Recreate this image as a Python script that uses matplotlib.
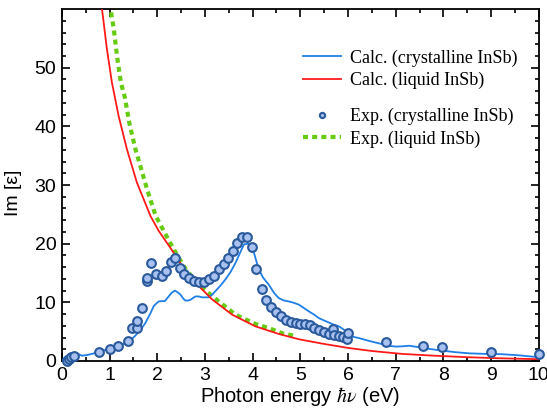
"""
Im[eps] of crystalline and liquid InSb, calculation vs experiment.
"""
import matplotlib
matplotlib.use("Agg")
import matplotlib.pyplot as plt

# Exp. (crystalline InSb) - points
exp_c_e = [0.10, 0.15, 0.20, 0.25, 0.77, 1.00, 1.18, 1.39, 1.47, 1.58, 1.58, 1.68,
           1.78, 1.78, 1.88, 1.97, 2.09, 2.18, 2.28, 2.38, 2.47, 2.56, 2.66, 2.77,
           2.87, 2.98, 3.08, 3.19, 3.29, 3.40, 3.49, 3.59, 3.68, 3.78, 3.89, 3.99,
           4.08, 4.19, 4.29, 4.39, 4.49, 4.59, 4.70, 4.80, 4.90, 5.00, 5.10, 5.20,
           5.29, 5.39, 5.50, 5.60, 5.69, 5.71, 5.81, 5.90, 5.97, 5.99, 6.79, 7.58,
           7.98, 9.00, 10.00]
exp_c_v = [0.0, 0.3, 0.6, 0.8, 1.5, 2.05, 2.6, 3.4, 5.7, 5.7, 6.8, 9.0,
           13.7, 14.2, 16.7, 14.9, 14.55, 15.3, 16.95, 17.5, 15.9, 14.9, 14.15, 13.7,
           13.5, 13.5, 13.9, 14.55, 15.6, 16.6, 17.6, 18.8, 20.1, 21.1, 21.2, 19.5,
           15.6, 12.3, 10.4, 9.2, 8.3, 7.6, 7.0, 6.6, 6.4, 6.3, 6.3, 6.05,
           5.7, 5.3, 4.97, 4.6, 5.4, 4.4, 4.28, 4.05, 3.7, 4.7, 3.3, 2.6,
           2.3, 1.6, 1.2]

# Calc. (crystalline InSb)
calc_c_e = [0.00, 0.07, 0.15, 0.25, 0.32, 0.42, 0.52, 0.63, 0.80, 0.98, 1.15, 1.33,
            1.45, 1.54, 1.65, 1.75, 1.85, 1.93, 2.03, 2.10, 2.16, 2.24, 2.30, 2.37,
            2.43, 2.49, 2.55, 2.59, 2.65, 2.70, 2.80, 2.87, 2.94, 3.08, 3.15, 3.22,
            3.32, 3.43, 3.54, 3.64, 3.74, 3.82, 3.91, 3.97, 4.03, 4.13, 4.22, 4.34,
            4.45, 4.55, 4.66, 4.76, 4.87, 4.97, 5.08, 5.18, 5.29, 5.39, 5.50, 5.60,
            5.70, 5.81, 5.92, 6.02, 6.12, 6.23, 6.45, 6.65, 6.85, 7.00, 7.15, 7.28,
            7.40, 7.49, 7.75, 7.98, 8.25, 8.54, 8.90, 9.24, 9.60, 10.00]
calc_c_v = [0.0, 0.7, 1.1, 1.35, 1.3, 0.9, 1.0, 1.2, 1.6, 2.05, 2.5, 3.0,
            3.6, 4.3, 5.3, 6.45, 8.0, 9.4, 10.15, 10.2, 10.2, 11.0, 11.6, 12.0,
            11.7, 11.3, 10.6, 10.3, 10.3, 10.45, 11.0, 11.0, 10.85, 10.85, 11.3, 11.9,
            12.8, 13.9, 15.2, 16.7, 18.5, 19.9, 20.0, 19.3, 18.4, 15.6, 14.2, 13.0,
            11.6, 10.7, 10.3, 10.15, 9.9, 9.6, 9.0, 8.45, 7.9, 7.3, 6.9, 6.55,
            6.2, 5.9, 5.3, 4.45, 4.1, 3.9, 3.4, 3.0, 2.6, 2.45, 2.5, 2.6,
            2.45, 2.35, 2.0, 1.76, 1.5, 1.3, 1.2, 1.15, 0.95, 0.63]

# Calc. (liquid InSb)
calc_l_e = [0.80, 0.84, 0.945, 1.05, 1.19, 1.365, 1.575, 1.86, 2.03, 2.30, 2.59,
            2.87, 3.15, 3.57, 4.06, 4.55, 4.97, 5.50, 6.02, 6.50, 7.14, 7.80,
            8.54, 9.20, 10.00]
calc_l_v = [63.0, 60.2, 53.2, 47.5, 41.8, 36.1, 30.4, 24.7, 22.2, 19.0, 15.4,
            12.8, 10.5, 7.9, 5.9, 4.6, 3.7, 2.9, 2.2, 1.7, 1.2, 0.9,
            0.63, 0.45, 0.3]

# Exp. (liquid InSb)
exp_l_e = [1.03, 1.04, 1.09, 1.16, 1.24, 1.32, 1.42, 1.55, 1.63, 1.79, 1.97,
           2.24, 2.40, 2.60, 2.87, 3.29, 3.64, 4.06, 4.34, 4.63, 4.93]
exp_l_v = [61.0, 59.0, 56.6, 51.8, 47.4, 45.0, 40.4, 35.9, 33.7, 29.2, 24.7,
           20.6, 18.3, 15.6, 13.0, 10.15, 7.9, 6.3, 5.6, 4.7, 4.2]

plt.rcParams['mathtext.fontset'] = 'stix'
sans = 'Liberation Sans'
serif = 'Liberation Serif'

fig = plt.figure(figsize=(5.47, 4.13), dpi=100)
ax = fig.add_axes([0.113, 0.126, 0.872, 0.852])

blue = '#1f7fe6'
red = '#ff1a1a'
green = '#66cc11'

l1, = ax.plot(calc_c_e, calc_c_v, color=blue, lw=1.3, zorder=3)
l2, = ax.plot(calc_l_e, calc_l_v, color=red, lw=1.3, zorder=4)
l4, = ax.plot(exp_l_e, exp_l_v, color=green, lw=3, ls=(0, (1.2, 1.0)), zorder=2)
l3, = ax.plot(exp_c_e, exp_c_v, ls='none', marker='o', ms=6.3, mfc='#a9c1f0',
              mec='#2a5a9c', mew=1.5, zorder=5, clip_on=False)

ax.set_xlim(0, 10)
ax.set_ylim(0, 60)
ax.set_xticks(range(0, 11))
ax.set_xticks([x + 0.5 for x in range(10)], minor=True)
ax.set_yticks(range(0, 51, 10))
ax.set_yticks(range(0, 60, 2), minor=True)

for s in ax.spines.values():
    s.set_linewidth(1.3)
ax.tick_params(which='both', direction='in', top=True, right=True, width=1.2)
ax.tick_params(which='major', length=5.5, labelsize=14, pad=4)
ax.tick_params(which='minor', length=3)
for lab in ax.get_xticklabels() + ax.get_yticklabels():
    lab.set_fontfamily(sans)

ax.set_xlabel(r'Photon energy $\hbar\nu$ (eV)', fontsize=14.5, family=sans, labelpad=1)
ax.set_ylabel('Im [ε]', fontsize=14, family=sans)
ax.yaxis.set_label_coords(-0.084, 0.477)

leg_font = {'family': serif, 'size': 13.0}
leg_kw = dict(loc='upper left', frameon=False, prop=leg_font, handlelength=2.1,
              handletextpad=0.5, labelspacing=0.3, borderpad=0, borderaxespad=0)
leg1 = ax.legend([l1, l2], ['Calc. (crystalline InSb)', 'Calc. (liquid InSb)'],
                 bbox_to_anchor=(0.505, 0.886), **leg_kw)
ax.add_artist(leg1)
ax.legend([l3, l4], ['Exp. (crystalline InSb)', 'Exp. (liquid InSb)'],
          bbox_to_anchor=(0.505, 0.72), markerscale=0.6, **leg_kw)

fig.savefig('out.png', dpi=100)
